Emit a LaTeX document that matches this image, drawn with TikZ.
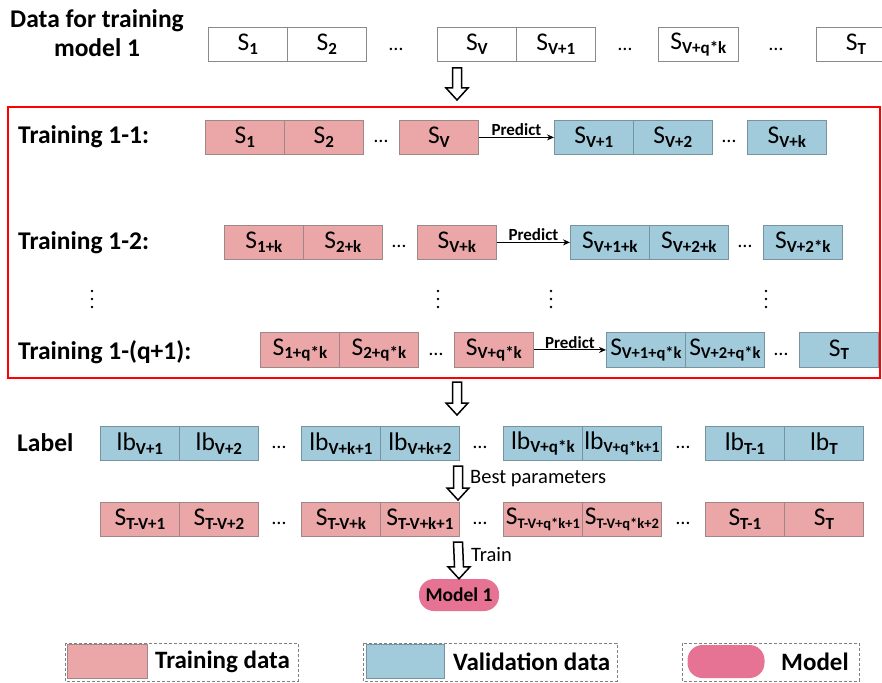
\documentclass[tikz,border=0pt]{standalone}
\usepackage{fontspec}
\setmainfont{Carlito}
\usetikzlibrary{calc,arrows.meta}
\definecolor{tpink}{HTML}{EBA7A8}
\definecolor{pedge}{HTML}{9E8787}
\definecolor{vblue}{HTML}{A1CADB}
\definecolor{bedge}{HTML}{7893A0}
\definecolor{mpink}{HTML}{E67393}
\definecolor{wedge}{HTML}{8A8A8A}
\newcommand\sbx[3][17]{#2\raisebox{-3.5pt}{\fontsize{#1}{#1}\selectfont\bfseries #3}}
\newcommand\harrow[2]{\draw[line width=1.5pt, fill=white, line join=miter]
  ($(#1)+(-4.5,0)$) -- ($(#1)+(4.5,0)$) -- ($(#2)+(4.5,-12)$) -- ($(#2)+(11,-12)$)
  -- (#2) -- ($(#2)+(-11,-12)$) -- ($(#2)+(-4.5,-12)$) -- cycle;}
\tikzset{
  cell/.style={minimum width=79pt, minimum height=34pt, inner sep=0pt, anchor=north west,
    line width=0.8pt, font=\fontsize{25.5}{25.5}\selectfont},
  wcell/.style={cell, draw=wedge, fill=white},
  pcell/.style={cell, draw=pedge, fill=tpink},
  bcell/.style={cell, draw=bedge, fill=vblue},
  ell/.style={inner sep=0pt, font=\fontsize{20}{20}\selectfont},
  rowlabel/.style={anchor=west, inner sep=0pt, font=\bfseries\fontsize{25.5}{25.5}\selectfont},
  predarrow/.style={-{Stealth[length=7pt,width=6pt]}, line width=0.9pt},
  predlabel/.style={above, inner sep=1pt, font=\bfseries\fontsize{17}{17}\selectfont},
  vdot/.style={fill=black, draw=none},
  legbox/.style={draw=gray, dashed, line width=0.8pt, dash pattern=on 3pt off 2pt},
  legtext/.style={anchor=west, inner sep=0pt, font=\bfseries\fontsize{25}{25}\selectfont},
  arrtext/.style={anchor=west, inner sep=0pt, font=\fontsize{20.5}{20.5}\selectfont},
}
\begin{document}
\begin{tikzpicture}[x=1pt,y=-1pt]
\useasboundingbox (0,0) rectangle (882,682);
% title
\node[align=center, inner sep=0pt, font=\bfseries\fontsize{25.5}{29}\selectfont] (title) at (97,33) {Data for training\\model 1};
% top row
\node[wcell] (t1) at (208,27) {\sbx{S}{1}};
\node[wcell] (t2) at (287,27) {\sbx{S}{2}};
\node[ell] (td1) at (396,49) {…};
\node[wcell] (t3) at (437,27) {\sbx{S}{V}};
\node[wcell] (t4) at (516,27) {\sbx{S}{V+1}};
\node[ell] (td2) at (625,49) {…};
\node[wcell, minimum width=80pt] (t5) at (658,27) {\sbx{S}{V+q*k}};
\node[ell] (td3) at (776,49) {…};
\node[wcell] (t6) at (816,27) {\sbx{S}{T}};
% arrow 1
\coordinate (a1s) at (457,68); \coordinate (a1e) at (457,100);
\harrow{a1s}{a1e}
% red frame
\draw[red, line width=2pt] (8,107) rectangle (880,378);
% Training 1-1
\node[rowlabel] (r1) at (18,137) {Training 1-1:};
\node[pcell] (p11) at (205,120) {\sbx{S}{1}};
\node[pcell] (p12) at (284,120) {\sbx{S}{2}};
\node[ell] (pd11) at (381,141) {…};
\node[pcell] (p13) at (399,120) {\sbx{S}{V}};
\node[bcell] (b11) at (554,120) {\sbx{S}{V+1}};
\node[bcell] (b12) at (633,120) {\sbx{S}{V+2}};
\node[ell] (bd11) at (729,141) {…};
\node[bcell] (b13) at (747,120) {\sbx{S}{V+k}};
\draw[predarrow] (p13.east) -- node[predlabel] {Predict} (b11.west);
% Training 1-2
\node[rowlabel] (r2) at (18,243) {Training 1-2:};
\node[pcell] (p21) at (224,225) {\sbx{S}{1+k}};
\node[pcell] (p22) at (303,225) {\sbx{S}{2+k}};
\node[ell] (pd21) at (399,246) {…};
\node[pcell] (p23) at (417,225) {\sbx{S}{V+k}};
\node[bcell] (b21) at (570,225) {\sbx{S}{V+1+k}};
\node[bcell] (b22) at (649,225) {\sbx{S}{V+2+k}};
\node[ell] (bd21) at (745,246) {…};
\node[bcell] (b23) at (763,225) {\sbx{S}{V+2*k}};
\draw[predarrow] (p23.east) -- node[predlabel] {Predict} (b21.west);
% vertical dots
\foreach \x in {92,438,551,766}{
  \foreach \y in {291,299,307}{ \fill[vdot] (\x,\y) circle (1.4pt); }
}
% Training 1-(q+1)
\node[rowlabel] (r3) at (18,352) {Training 1-(q+1):};
\node[pcell, minimum height=35pt] (p31) at (260,332) {\sbx{S}{1+q*k}};
\node[pcell, minimum height=35pt] (p32) at (339,332) {\sbx{S}{2+q*k}};
\node[ell] (pd31) at (436,354) {…};
\node[pcell, minimum height=35pt] (p33) at (454,332) {\sbx{S}{V+q*k}};
\node[bcell, minimum height=35pt] (b31) at (606,332) {\sbx[16.5]{S}{V+1+q*k}};
\node[bcell, minimum height=35pt] (b32) at (685,332) {\sbx[16.5]{S}{V+2+q*k}};
\node[ell] (bd31) at (781,354) {…};
\node[bcell, minimum height=35pt] (b33) at (799,332) {\sbx{S}{T}};
\draw[predarrow] (p33.east) -- node[predlabel] {Predict} (b31.west);
% arrow 2
\coordinate (a2s) at (457,382); \coordinate (a2e) at (457,415);
\harrow{a2s}{a2e}
% Label row
\node[rowlabel] (lab) at (17,443) {Label};
\node[bcell] (l1) at (100,426) {lb\sbx{}{V+1}};
\node[bcell] (l2) at (179,426) {lb\sbx{}{V+2}};
\node[ell] (ld1) at (279,447) {…};
\node[bcell] (l3) at (301,426) {lb\sbx{}{V+k+1}};
\node[bcell] (l4) at (380,426) {lb\sbx{}{V+k+2}};
\node[ell] (ld2) at (480,447) {…};
\node[bcell] (l5) at (503,426) {lb\sbx{}{V+q*k}};
\node[bcell] (l6) at (582,426) {lb\sbx[15.5]{}{V+q*k+1}};
\node[ell] (ld3) at (683,447) {…};
\node[bcell] (l7) at (705,426) {lb\sbx{}{T-1}};
\node[bcell] (l8) at (784,426) {lb\sbx{}{T}};
% arrow 3
\coordinate (a3s) at (458,466); \coordinate (a3e) at (458,500);
\harrow{a3s}{a3e}
\node[arrtext] (bp) at (470,479) {Best parameters};
% S row
\node[pcell] (s1) at (100,502) {\sbx{S}{T-V+1}};
\node[pcell] (s2) at (179,502) {\sbx{S}{T-V+2}};
\node[ell] (sd1) at (279,523) {…};
\node[pcell] (s3) at (301,502) {\sbx{S}{T-V+k}};
\node[pcell] (s4) at (380,502) {\sbx{S}{T-V+k+1}};
\node[ell] (sd2) at (480,523) {…};
\node[pcell] (s5) at (503,502) {\sbx[14.5]{S}{T-V+q*k+1}};
\node[pcell] (s6) at (582,502) {\sbx[14.5]{S}{T-V+q*k+2}};
\node[ell] (sd3) at (683,523) {…};
\node[pcell] (s7) at (705,502) {\sbx{S}{T-1}};
\node[pcell] (s8) at (784,502) {\sbx{S}{T}};
% model
\node[fill=mpink, rounded corners=15pt, minimum width=80pt, minimum height=32pt, inner sep=0pt,
  font=\bfseries\fontsize{19.5}{19.5}\selectfont] (model) at (459,595) {Model 1};
\coordinate (a4s) at (458,542);
\harrow{a4s}{model.north}
\node[arrtext] (tr) at (471,555) {Train};
% legend
\draw[legbox] (65,643) rectangle (298,681);
\node[pcell, minimum width=80pt] (lg1) at (67,644) {};
\node[legtext] (lt1) at (155,662) {Training data};
\draw[legbox] (363,643) rectangle (617,681);
\node[bcell, minimum width=78pt] (lg2) at (366,644) {};
\node[legtext] (lt2) at (453,662) {Validation data};
\draw[legbox] (682,643) rectangle (859,681);
\node[fill=mpink, rounded corners=15pt, minimum width=77pt, minimum height=33pt, inner sep=0pt] (lg3) at (726,661.5) {};
\node[legtext] (lt3) at (781,662) {Model};
\end{tikzpicture}
\end{document}
